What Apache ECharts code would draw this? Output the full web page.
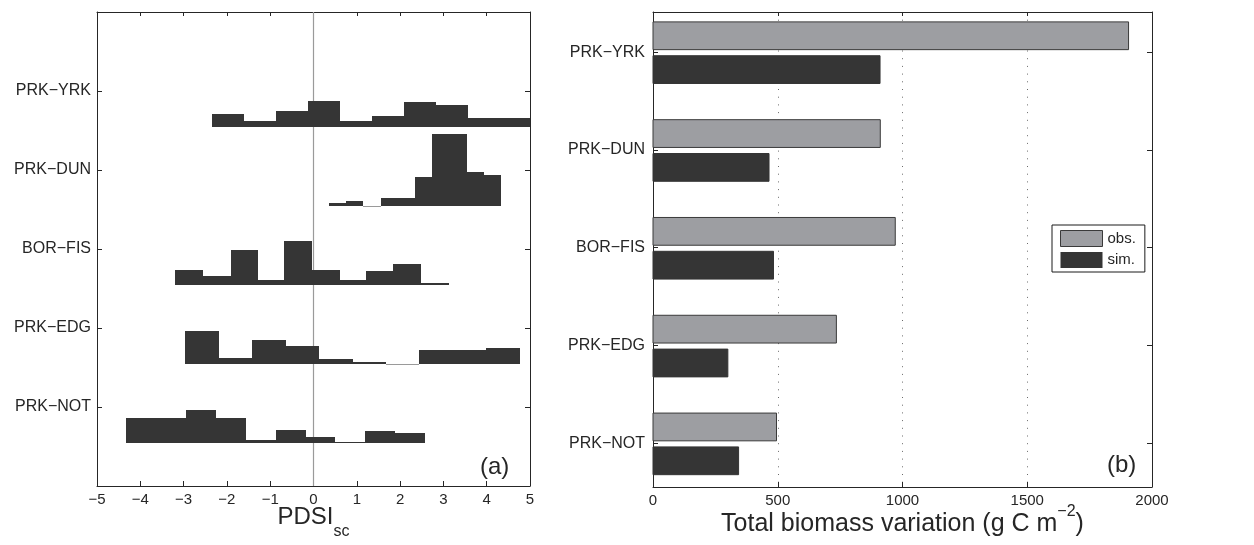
<!DOCTYPE html>
<html><head><meta charset="utf-8">
<script src="https://cdn.jsdelivr.net/npm/echarts@6.0.0/dist/echarts.min.js"></script>
<style>html,body{margin:0;padding:0;background:#fff}#c{width:1254px;height:545px}</style>
</head><body><div id="c"></div>
<script>
// ---- data (sites listed top to bottom) ----
const sites = ['PRK−YRK', 'PRK−DUN', 'BOR−FIS', 'PRK−EDG', 'PRK−NOT'];

// panel (a): histogram bin edges (PDSI_sc) and bar heights (in site-row units)
const edgesYRK = [-2.34, -1.60, -0.87, -0.13, 0.61, 1.35, 2.09, 2.83, 3.57, 4.31, 5.05];
const freqYRK  = [0.160, 0.072, 0.198, 0.324, 0.072, 0.135, 0.312, 0.274, 0.110, 0.110];
const edgesDUN = [0.36, 0.76, 1.15, 1.55, 1.95, 2.35, 2.74, 3.14, 3.54, 3.94, 4.33];
const freqDUN  = [0.034, 0.059, 0, 0.097, 0.097, 0.362, 0.905, 0.905, 0.426, 0.388];
const edgesFIS = [-3.20, -2.55, -1.91, -1.28, -0.68, -0.03, 0.61, 1.21, 1.83, 2.48, 3.13];
const freqFIS  = [0.181, 0.105, 0.433, 0.054, 0.547, 0.181, 0.054, 0.168, 0.256, 0.021];
const edgesEDG = [-2.97, -2.18, -1.42, -0.63, 0.13, 0.91, 1.67, 2.44, 3.21, 3.98, 4.77];
const freqEDG  = [0.413, 0.072, 0.299, 0.223, 0.059, 0.021, 0, 0.173, 0.173, 0.198];
const edgesNOT = [-4.33, -3.64, -2.94, -2.25, -1.56, -0.87, -0.17, 0.50, 1.19, 1.88, 2.57];
const freqNOT  = [0.312, 0.312, 0.413, 0.312, 0.034, 0.160, 0.072, 0.008, 0.148, 0.122];

// panel (b): total biomass variation (g C m^-2)
const obsBiomass = [1906, 911, 971, 735, 495];
const simBiomass = [910, 465, 483, 300, 343];

// axis ticks
const pdsiMin = -5, pdsiMax = 5, pdsiStep = 1;
const bioMin = 0, bioMax = 2000, bioStep = 500;

// ---- build ----
const histEdges = [edgesYRK, edgesDUN, edgesFIS, edgesEDG, edgesNOT];
const histFreq = [freqYRK, freqDUN, freqFIS, freqEDG, freqNOT];
const N = sites.length;
const rowOf = i => N - i;            // top row = N
const siteTicks = sites.map((s, i) => rowOf(i)).reverse();
const labelOf = v => { const i = N - Math.round(v); return (i >= 0 && i < N && Math.abs(v - Math.round(v)) < 1e-6) ? sites[i] : ''; };

const histData = [];
histEdges.forEach((ed, i) => {
  histFreq[i].forEach((h, j) => histData.push([ed[j], ed[j + 1], h, rowOf(i)]));
});
const obsData = obsBiomass.map((v, i) => [v, rowOf(i)]);
const simData = simBiomass.map((v, i) => [v, rowOf(i)]);

const FONT = 'Liberation Sans, Arial, Helvetica, sans-serif';
const INK = '#262626';
const DARK = '#353535';
const GREY = '#9d9ea2';
const HIST_BASE = 0.45;   // histogram baseline below the site tick (row units)
const BAR_H = 0.284;      // bar thickness (row units)
const OBS_OFF = -0.167, SIM_OFF = 0.179;

function renderHist(params, api) {
  const x0 = api.value(0), x1 = api.value(1), h = api.value(2), k = api.value(3);
  const base = k - HIST_BASE;
  const pa = api.coord([x0, base]);
  const pb = api.coord([x1, base + h]);
  const cs = params.coordSys;
  const xa = Math.round(Math.max(pa[0], cs.x)), xb = Math.round(Math.min(pb[0], cs.x + cs.width));
  const yb = Math.round(pa[1]);
  if (h <= 0) {
    return {type: 'line', shape: {x1: xa, y1: yb + 0.5, x2: xb, y2: yb + 0.5}, style: {stroke: '#9a9a9a', lineWidth: 1}};
  }
  let top = Math.round(pb[1]);
  if (yb - top < 1) top = yb - 1;
  return {type: 'rect', shape: {x: xa, y: top, width: xb - xa, height: yb - top}, style: {fill: DARK}};
}
function makeBarRender(off, fill, stroke) {
  return function (params, api) {
    const v = api.value(0), k = api.value(1);
    const p0 = api.coord([0, k]), p1 = api.coord([v, k]);
    const unit = api.size([0, 1])[1];
    const cy = p0[1] + off * unit, hh = BAR_H * unit;
    return {type: 'rect', shape: {x: p0[0], y: cy - hh / 2, width: p1[0] - p0[0], height: hh},
            style: {fill: fill, stroke: stroke, lineWidth: 1}};
  };
}

const frameLine = {show: true, onZero: false, lineStyle: {color: INK, width: 1}};
const tickIn = len => ({show: true, inside: true, length: len, lineStyle: {color: INK, width: 1}});
const numFmt = v => String(v).replace('-', '−');

const chart = echarts.init(document.getElementById('c'), null, {renderer: 'canvas'});
chart.setOption({
  backgroundColor: '#fff',
  animation: false,
  textStyle: {fontFamily: FONT, color: INK},
  grid: [
    {left: 97, top: 12, width: 433, height: 475, containLabel: false},
    {left: 653, top: 12, width: 499, height: 475, containLabel: false}
  ],
  legend: {
    data: [
      {name: 'obs.', icon: 'rect', itemStyle: {color: GREY, borderColor: '#3a3a3a', borderWidth: 1}},
      {name: 'sim.', icon: 'rect', itemStyle: {color: DARK}}
    ],
    orient: 'vertical', left: 1052, top: 225, itemWidth: 42, itemHeight: 16, itemGap: 5,
    padding: [5, 9, 4, 8], borderColor: '#1a1a1a', borderWidth: 1, backgroundColor: '#fff',
    textStyle: {fontSize: 15, color: INK, fontFamily: FONT}, selectedMode: false
  },
  xAxis: [
    {gridIndex: 0, type: 'value', min: pdsiMin, max: pdsiMax, interval: pdsiStep, position: 'bottom',
     axisLine: frameLine, axisTick: tickIn(5), splitLine: {show: false},
     axisLabel: {fontSize: 15, color: INK, margin: 6, formatter: numFmt},
     name: '{a|PDSI}{b|sc}', nameLocation: 'middle', nameGap: 19, nameMoveOverlap: false,
     nameTextStyle: {color: INK, rich: {
       a: {fontSize: 24, fontFamily: FONT, color: INK, verticalAlign: 'top'},
       b: {fontSize: 16, fontFamily: FONT, color: INK, verticalAlign: 'top', padding: [19, 0, 0, 0]}
     }}},
    {gridIndex: 0, type: 'value', min: pdsiMin, max: pdsiMax, interval: pdsiStep, position: 'top',
     axisLine: frameLine, axisTick: tickIn(4), axisLabel: {show: false}, splitLine: {show: false}},
    {gridIndex: 1, type: 'value', min: bioMin, max: bioMax, interval: bioStep, position: 'bottom',
     axisLine: frameLine, axisTick: tickIn(5),
     splitLine: {show: true, lineStyle: {color: '#6a6a6a', width: 1, type: [1, 6.7]}},
     axisLabel: {fontSize: 15, color: INK, margin: 6, formatter: v => String(v)},
     name: '{a|Total biomass variation (g C m}{s|−2}{a|)}', nameLocation: 'middle', nameGap: 17, nameMoveOverlap: false,
     nameTextStyle: {color: INK, rich: {
       a: {fontSize: 25, fontFamily: FONT, color: INK, verticalAlign: 'bottom'},
       s: {fontSize: 16, fontFamily: FONT, color: INK, verticalAlign: 'top', padding: [0, 0, 17, 0]}
     }}},
    {gridIndex: 1, type: 'value', min: bioMin, max: bioMax, interval: bioStep, position: 'top',
     axisLine: frameLine, axisTick: tickIn(4), axisLabel: {show: false}, splitLine: {show: false}}
  ],
  yAxis: [
    {gridIndex: 0, type: 'value', min: 0, max: N + 1, interval: 1, position: 'left',
     axisLine: frameLine, axisTick: tickIn(5), splitLine: {show: false},
     axisLabel: {fontSize: 16, color: INK, margin: 6, formatter: labelOf}},
    {gridIndex: 0, type: 'value', min: 0, max: N + 1, interval: 1, position: 'right',
     axisLine: frameLine, axisTick: tickIn(5), axisLabel: {show: false}, splitLine: {show: false}},
    {gridIndex: 1, type: 'value', min: 0.553, max: 5.41, position: 'left',
     axisLine: frameLine, splitLine: {show: false},
     axisTick: Object.assign(tickIn(5), {customValues: siteTicks}),
     axisLabel: {fontSize: 16, color: INK, margin: 8, customValues: siteTicks, formatter: labelOf}},
    {gridIndex: 1, type: 'value', min: 0.553, max: 5.41, position: 'right',
     axisLine: frameLine, splitLine: {show: false},
     axisTick: Object.assign(tickIn(5), {customValues: siteTicks}), axisLabel: {show: false}}
  ],
  graphic: [
    {type: 'text', left: 480, top: 455, style: {text: '(a)', fontSize: 24, fontFamily: FONT, fill: INK}},
    {type: 'text', left: 1107, top: 453, style: {text: '(b)', fontSize: 24, fontFamily: FONT, fill: INK}}
  ],
  series: [
    {type: 'line', name: 'zero', xAxisIndex: 0, yAxisIndex: 0, z: 1, silent: true, symbol: 'none',
     data: [[0, 0], [0, N + 1]], lineStyle: {color: '#9a9a9a', width: 1.2}},
    {type: 'custom', name: 'hist', xAxisIndex: 0, yAxisIndex: 0, z: 3, silent: true,
     encode: {x: [0, 1], y: 3}, renderItem: renderHist, data: histData},
    {type: 'custom', name: 'obs.', xAxisIndex: 2, yAxisIndex: 2, z: 3, silent: true,
     itemStyle: {color: GREY}, encode: {x: 0, y: 1}, renderItem: makeBarRender(OBS_OFF, GREY, '#3a3a3a'), data: obsData},
    {type: 'custom', name: 'sim.', xAxisIndex: 2, yAxisIndex: 2, z: 3, silent: true,
     itemStyle: {color: DARK}, encode: {x: 0, y: 1}, renderItem: makeBarRender(SIM_OFF, DARK, DARK), data: simData}
  ]
});
</script></body></html>
